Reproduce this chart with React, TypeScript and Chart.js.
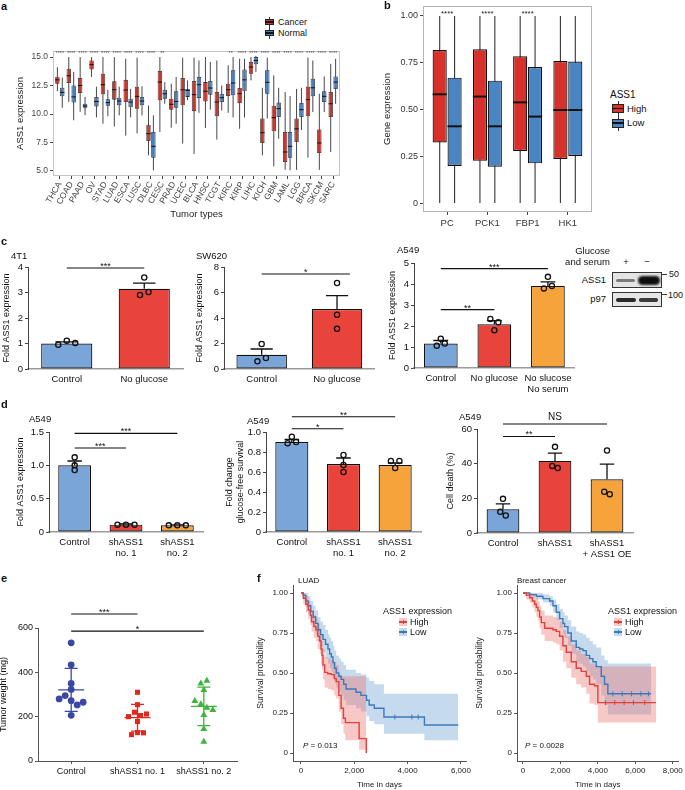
import React, { useEffect, useRef } from 'react';
import { Chart, registerables } from 'chart.js';

Chart.register(...registerables);

const SANS = "'Liberation Sans', Arial, Helvetica, sans-serif";
Chart.defaults.font.family = SANS;
Chart.defaults.color = '#222';

/* ---------------- panel a : ASS1 expression by tumour type ---------------- */
const tumorTypes = ['THCA', 'COAD', 'PAAD', 'OV', 'STAD', 'LUAD', 'ESCA', 'LUSC', 'DLBC', 'CESC', 'PRAD', 'UCEC', 'BLCA', 'HNSC', 'TCGT', 'KIRC', 'KIRP', 'LIHC', 'KICH', 'GBM', 'LAML', 'LGG', 'BRCA', 'SKCM', 'SARC'];
const tumorSig = ['****', '****', '****', '****', '****', '****', '****', '****', '****', '**', '', '', '', '', '', '**', '****', '****', '****', '****', '****', '****', '****', '****', '****'];
// [lower whisker, Q1, median, Q3, upper whisker]
const cancerStats = [
  [12.0, 12.66, 13.0, 13.27, 14.1], [11.05, 12.72, 13.36, 13.98, 15.0], [10.2, 11.84, 12.5, 13.16, 15.0],
  [13.25, 13.9, 14.33, 14.7, 15.0], [9.15, 11.73, 12.57, 13.54, 15.0], [8.9, 11.26, 12.13, 12.87, 15.0],
  [8.1, 11.05, 12.1, 13.0, 14.85], [8.3, 10.47, 11.55, 12.4, 14.95], [6.37, 7.63, 8.27, 9.06, 10.75],
  [8.42, 11.2, 12.8, 13.77, 15.0], [8.8, 10.38, 10.85, 11.35, 12.66], [7.4, 10.76, 12.13, 13.16, 14.95],
  [6.5, 10.26, 11.7, 12.9, 14.95], [8.77, 11.1, 12.0, 12.8, 15.0], [7.75, 9.8, 11.05, 11.93, 14.7],
  [10.1, 11.58, 12.13, 12.66, 14.27], [8.7, 10.96, 11.78, 12.28, 14.85], [12.95, 13.54, 14.12, 14.56, 15.0],
  [6.37, 7.46, 8.36, 9.6, 12.3], [5.4, 8.48, 9.68, 10.73, 13.4], [5.1, 5.79, 6.67, 8.42, 11.93],
  [5.1, 7.54, 8.7, 9.6, 12.2], [6.17, 9.8, 11.26, 12.4, 14.95], [5.1, 6.58, 7.46, 8.63, 11.78],
  [6.67, 9.74, 10.9, 11.93, 14.4],
];
const normalStats = [
  [10.55, 11.55, 11.9, 12.3, 13.2], [9.45, 11.0, 11.5, 12.5, 13.7], [9.9, 10.55, 10.7, 10.9, 11.5],
  [9.7, 10.67, 11.1, 11.5, 12.4], [9.8, 10.73, 11.0, 11.3, 12.13], [9.88, 10.76, 11.14, 11.43, 12.4],
  [9.7, 10.6, 11.05, 11.35, 12.2], [9.88, 10.76, 11.14, 11.5, 12.43], [5.06, 6.17, 7.16, 8.42, 9.88],
  [10.9, 11.35, 11.78, 12.13, 12.8], [9.15, 10.55, 11.1, 12.0, 13.25], [11.2, 11.5, 12.07, 12.2, 12.95],
  [10.1, 11.4, 12.57, 13.25, 14.7], [10.38, 11.7, 12.28, 12.9, 14.56], [10.3, 11.05, 11.43, 11.78, 12.5],
  [9.7, 11.64, 12.72, 13.83, 15.0], [9.7, 12.0, 13.0, 13.9, 14.85], [13.7, 14.36, 14.7, 15.0, 15.1],
  [9.6, 11.78, 12.78, 13.83, 14.95], [7.84, 9.74, 10.47, 11.0, 12.3], [5.06, 6.17, 7.16, 8.42, 11.58],
  [8.6, 9.74, 10.38, 10.96, 12.3], [10.17, 11.55, 12.3, 13.1, 14.7], [10.17, 11.05, 11.55, 12.0, 13.3],
  [10.9, 12.2, 12.8, 13.3, 14.85],
];
const expressionTicks = [5, 7.5, 10, 12.5, 15];

/* ---------------- panel b : gluconeogenic genes ---------------- */
const genes = ['PC', 'PCK1', 'FBP1', 'HK1'];
const geneSig = ['****', '****', '****', ''];
const highStats = [[0, 0.324, 0.581, 0.818, 1], [0, 0.226, 0.569, 0.822, 1], [0, 0.278, 0.538, 0.784, 1], [0, 0.235, 0.497, 0.759, 1]];
const lowStats = [[0, 0.198, 0.41, 0.67, 1], [0, 0.194, 0.41, 0.654, 1], [0, 0.212, 0.462, 0.727, 1], [0, 0.251, 0.497, 0.756, 1]];
const geneTicks = [0, 0.25, 0.5, 0.75, 1];

/* ---------------- panel c ---------------- */
const c1Groups = ['Control', 'No glucose'];
const c1Mean = [1.0, 3.15];
const c1Err = [0.06, 0.22];
const c1Points = [[0.95, 1.11, 1.02], [2.9, 3.59, 3.02]];
const c1Ticks = [0, 1, 2, 3, 4];
const c1Sig = [{ from: 0, to: 1, y: 3.96, label: '***' }];

const c2Groups = ['Control', 'No glucose'];
const c2Mean = [1.12, 4.7];
const c2Err = [0.45, 1.05];
const c2Points = [[0.6, 1.96, 0.86], [6.75, 4.26, 3.16]];
const c2Ticks = [0, 2, 4, 6, 8];
const c2Sig = [{ from: 0, to: 1.17, y: 7.45, label: '*' }];

const c3Groups = ['Control', 'No glucose', ['No slucose', 'No serum']];
const c3Mean = [1.17, 2.08, 3.91];
const c3Err = [0.14, 0.18, 0.19];
const c3Points = [[1.06, 1.39, 1.17], [2.33, 1.8, 2.18], [3.79, 4.34, 3.91]];
const c3Ticks = [0, 1, 2, 3, 4, 5];
const c3Sig = [{ from: 0, to: 2, y: 4.73, label: '***' }, { from: 0, to: 1, y: 2.78, label: '**' }];

/* ---------------- panel d ---------------- */
const d1Groups = ['Control', ['shASS1', 'no. 1'], ['shASS1', 'no. 2']];
const d1Mean = [1.0, 0.11, 0.1];
const d1Err = [0.065, 0.01, 0.008];
const d1Points = [[1.12, 1.0, 0.93], [0.11, 0.11, 0.11], [0.1, 0.1, 0.1]];
const d1Ticks = [0, 0.5, 1.0, 1.5];
const d1Sig = [{ from: 0, to: 2, y: 1.48, label: '***' }, { from: 0, to: 1, y: 1.26, label: '***' }];

const d2Groups = ['Control', ['shASS1', 'no. 1'], ['shASS1', 'no. 2']];
const d2Mean = [0.9, 0.68, 0.67];
const d2Err = [0.025, 0.06, 0.02];
const d2Points = [[0.887, 0.953, 0.9], [0.77, 0.67, 0.6], [0.71, 0.64, 0.71]];
const d2Ticks = [0, 0.2, 0.4, 0.6, 0.8, 1.0];
const d2Sig = [{ from: 0, to: 2, y: 1.153, label: '**' }, { from: 0, to: 1, y: 1.033, label: '*' }];

const d3Groups = ['Control', 'shASS1', ['shASS1', '+ ASS1 OE']];
const d3Mean = [13.7, 41.6, 31.0];
const d3Err = [3.1, 4.5, 8.7];
const d3Points = [[12.2, 19.7, 10.1], [38.7, 49.7, 37.5], [23.8, 47.6, 22.4]];
const d3Ticks = [0, 20, 40, 60];
const d3Sig = [{ from: 0, to: 2, y: 62.9, label: 'NS' }, { from: 0, to: 1, y: 55.7, label: '**' }];

/* ---------------- panel e : tumour weight ---------------- */
const eGroups = ['Control', 'shASS1 no. 1', 'shASS1 no. 2'];
const eControl = [533, 434, 350, 323, 280, 295, 272, 253, 265, 206];
const eSh1 = [310, 254, 200, 220, 205, 212, 178, 119, 128, 127];
const eSh2 = [350, 362, 320, 271, 256, 240, 230, 207, 144, 87];
const eTicks = [0, 200, 400, 600];
const eSig = [{ from: 1, to: 2, y: 663, label: '***' }, { from: 1, to: 3, y: 586, label: '*' }];

/* ---------------- panel f : Kaplan-Meier ---------------- */
const luadHighT = [0, 85, 180, 272, 350, 395, 480, 556, 630, 704, 750, 790, 827, 889, 1000, 1136, 1250, 1321, 1420, 1506, 1593, 1667, 2180, 2450];
const luadHighS = [1.0, 0.967, 0.93, 0.894, 0.86, 0.82, 0.79, 0.77, 0.73, 0.70, 0.65, 0.61, 0.55, 0.504, 0.495, 0.49, 0.465, 0.446, 0.36, 0.28, 0.217, 0.19, 0.09, 0.0];
const luadHighUp = [1, 1, 0.98, 0.95, 0.92, 0.89, 0.86, 0.84, 0.81, 0.78, 0.74, 0.70, 0.65, 0.60, 0.59, 0.58, 0.57, 0.55, 0.49, 0.48, 0.48, 0.48, 0.48, 0.48];
const luadHighLo = [1, 0.93, 0.88, 0.84, 0.80, 0.76, 0.72, 0.70, 0.65, 0.62, 0.56, 0.52, 0.46, 0.41, 0.40, 0.39, 0.36, 0.34, 0.26, 0.18, 0.12, 0.08, 0.02, 0.0];
const luadHighCensor: number[] = [];
const luadLowT = [0, 85, 180, 272, 365, 457, 550, 642, 735, 827, 920, 1012, 1075, 1136, 1200, 1259, 1321, 1420, 1506, 1600, 1691, 2062, 2247, 2457, 2556, 2750, 3111, 4630, 5900];
const luadLowS = [1.0, 0.985, 0.95, 0.92, 0.885, 0.85, 0.81, 0.77, 0.74, 0.71, 0.68, 0.65, 0.62, 0.60, 0.565, 0.53, 0.50, 0.48, 0.46, 0.43, 0.40, 0.38, 0.36, 0.33, 0.30, 0.28, 0.225, 0.175, 0.175];
const luadLowUp = [1, 1, 1, 0.98, 0.95, 0.92, 0.89, 0.85, 0.82, 0.80, 0.77, 0.74, 0.72, 0.70, 0.67, 0.64, 0.61, 0.59, 0.57, 0.55, 0.52, 0.50, 0.49, 0.47, 0.45, 0.43, 0.37, 0.37, 0.37];
const luadLowLo = [1, 0.96, 0.91, 0.87, 0.83, 0.79, 0.74, 0.70, 0.66, 0.63, 0.59, 0.56, 0.53, 0.51, 0.47, 0.44, 0.41, 0.38, 0.36, 0.33, 0.30, 0.28, 0.26, 0.23, 0.20, 0.18, 0.12, 0.08, 0.08];
const luadLowCensor = [3520, 4160, 4400];
const luadTicks = [0, 2000, 4000, 6000];

const brHighT = [0, 178, 356, 500, 622, 711, 800, 889, 978, 1156, 1600, 1778, 1956, 2133, 2311, 2578, 2844, 3111, 3378, 3556, 3822, 4000, 7111];
const brHighS = [1.0, 0.985, 0.97, 0.95, 0.93, 0.91, 0.89, 0.85, 0.815, 0.78, 0.77, 0.76, 0.73, 0.67, 0.63, 0.57, 0.53, 0.51, 0.48, 0.43, 0.42, 0.315, 0.315];
const brHighUp = [1, 1, 1, 0.99, 0.98, 0.97, 0.95, 0.92, 0.89, 0.86, 0.85, 0.84, 0.82, 0.77, 0.73, 0.68, 0.64, 0.62, 0.60, 0.56, 0.55, 0.54, 0.54];
const brHighLo = [1, 0.96, 0.94, 0.91, 0.88, 0.85, 0.83, 0.78, 0.74, 0.70, 0.69, 0.68, 0.64, 0.57, 0.53, 0.47, 0.43, 0.41, 0.37, 0.31, 0.30, 0.19, 0.19];
const brHighCensor = [4400, 4900, 5400, 5900, 6500];
const brLowT = [0, 355, 711, 1067, 1422, 1600, 1778, 1956, 2133, 2222, 2400, 2578, 2844, 3022, 3200, 3378, 3556, 3733, 3911, 4178, 4356, 4533, 6844];
const brLowS = [1.0, 0.99, 0.98, 0.965, 0.95, 0.92, 0.88, 0.84, 0.81, 0.79, 0.75, 0.70, 0.66, 0.65, 0.64, 0.61, 0.59, 0.57, 0.54, 0.48, 0.43, 0.37, 0.37];
const brLowUp = [1, 1, 1, 0.99, 0.98, 0.96, 0.93, 0.90, 0.88, 0.86, 0.83, 0.79, 0.76, 0.75, 0.74, 0.72, 0.70, 0.68, 0.66, 0.61, 0.58, 0.56, 0.56];
const brLowLo = [1, 0.98, 0.96, 0.94, 0.92, 0.88, 0.83, 0.78, 0.74, 0.72, 0.67, 0.62, 0.57, 0.56, 0.54, 0.51, 0.48, 0.46, 0.43, 0.36, 0.30, 0.24, 0.24];
const brLowCensor = [4800, 5300, 5800, 6300, 6700];
const brTicks = [0, 2000, 4000, 6000, 8000];
const survTicks = [0, 0.25, 0.5, 0.75, 1];

/* ---------------- colours ---------------- */
const A_RED = '#c8372d';
const A_BLUE = '#4a7fba';
const B_RED = '#d8302a';
const B_BLUE = '#4a85c3';
const BAR_BLUE = '#7aa5d9';
const BAR_RED = '#e8443c';
const BAR_ORANGE = '#f6a33c';
const E_BLUE = '#3b48a3';
const E_RED = '#e0281e';
const E_GREEN = '#3db43a';
const KM_RED = '#e2403a';
const KM_BLUE = '#3d79b8';
const KM_RED_BAND = 'rgba(236,110,104,0.38)';
const KM_BLUE_BAND = 'rgba(120,166,214,0.42)';

/* ---------------- helpers ---------------- */
type Sig = { from: number; to: number; y: number; label: string };

function clusterOffsets(py: number[], thr: number, gap: number): number[] {
  const order = py.map((_, i) => i).sort((a, b) => py[a] - py[b]);
  const groups: number[][] = [];
  order.forEach((i, k) => {
    if (k > 0 && Math.abs(py[i] - py[order[k - 1]]) < thr) groups[groups.length - 1].push(i);
    else groups.push([i]);
  });
  const offs = py.map(() => 0);
  groups.forEach((g) => {
    const s = g.slice().sort((a, b) => a - b);
    s.forEach((i, k) => { offs[i] = (k - (s.length - 1) / 2) * gap; });
  });
  return offs;
}

function fixedTicks(values: number[]) {
  return (s: any) => { s.ticks = values.map((v) => ({ value: v })); };
}

function fmt(dec: number) {
  return (v: any) => (Number(v) === 0 ? '0' : Number(v).toFixed(dec));
}

function drawSigs(chart: any, sigs: Sig[]) {
  const ctx = chart.ctx;
  const x = chart.scales.x;
  const y = chart.scales.y;
  ctx.save();
  ctx.strokeStyle = '#111';
  ctx.fillStyle = '#111';
  ctx.lineWidth = 1.1;
  ctx.textAlign = 'center';
  ctx.textBaseline = 'middle';
  sigs.forEach((s) => {
    const x0 = x.getPixelForValue(s.from);
    const x1 = x.getPixelForValue(s.to);
    const yy = y.getPixelForValue(s.y);
    ctx.beginPath();
    ctx.moveTo(x0, yy);
    ctx.lineTo(x1, yy);
    ctx.stroke();
    const star = /^\*+$/.test(s.label);
    ctx.font = `${star ? 9 : 10}px ${SANS}`;
    ctx.fillText(s.label, (x0 + x1) / 2, star ? yy - 1.5 : yy - 6.5);
  });
  ctx.restore();
}

function boxPlugin(cfg: { stats: number[][][]; medianWidth: number; whiskerWidth: number; sig: string[]; sigValue: number; sigFont: number; sigColor: string; frame: string }) {
  return {
    id: 'boxes',
    beforeDatasetsDraw(chart: any) {
      const ctx = chart.ctx;
      const y = chart.scales.y;
      ctx.save();
      ctx.strokeStyle = '#333';
      ctx.lineWidth = cfg.whiskerWidth;
      cfg.stats.forEach((st, d) => {
        chart.getDatasetMeta(d).data.forEach((el: any, i: number) => {
          ctx.beginPath();
          ctx.moveTo(el.x, y.getPixelForValue(st[i][4]));
          ctx.lineTo(el.x, y.getPixelForValue(st[i][0]));
          ctx.stroke();
        });
      });
      ctx.restore();
    },
    afterDatasetsDraw(chart: any) {
      const ctx = chart.ctx;
      const y = chart.scales.y;
      const x = chart.scales.x;
      ctx.save();
      ctx.strokeStyle = '#111';
      ctx.lineWidth = cfg.medianWidth;
      cfg.stats.forEach((st, d) => {
        chart.getDatasetMeta(d).data.forEach((el: any, i: number) => {
          const my = y.getPixelForValue(st[i][2]);
          ctx.beginPath();
          ctx.moveTo(el.x - el.width / 2, my);
          ctx.lineTo(el.x + el.width / 2, my);
          ctx.stroke();
        });
      });
      const a = chart.chartArea;
      ctx.strokeStyle = cfg.frame;
      ctx.lineWidth = 1;
      ctx.strokeRect(Math.round(a.left) + 0.5, Math.round(a.top) + 0.5, Math.round(a.right - a.left) - 1, Math.round(a.bottom - a.top) - 1);
      ctx.fillStyle = cfg.sigColor;
      ctx.font = `${cfg.sigFont}px ${SANS}`;
      ctx.textAlign = 'center';
      ctx.textBaseline = 'middle';
      const sy = y.getPixelForValue(cfg.sigValue) + cfg.sigFont * 0.25;
      cfg.sig.forEach((s, i) => { if (s) ctx.fillText(s, x.getPixelForValue(i + 1), sy); });
      ctx.restore();
    },
  };
}

function barPlugin(errs: number[], sigs: Sig[], thr: number, gap: number) {
  return {
    id: 'barExtras',
    afterDatasetsUpdate(chart: any) {
      const metas = chart.data.datasets.map((_: any, i: number) => chart.getDatasetMeta(i)).slice(1);
      const n = metas[0].data.length;
      for (let c = 0; c < n; c++) {
        const ys = metas.map((m: any) => m.data[c].y);
        const offs = clusterOffsets(ys, thr, gap);
        metas.forEach((m: any, k: number) => { m.data[c].x += offs[k]; });
      }
    },
    afterDatasetDraw(chart: any, args: any) {
      if (args.index !== 0) return;
      const ctx = chart.ctx;
      const y = chart.scales.y;
      const means = chart.data.datasets[0].data;
      ctx.save();
      ctx.strokeStyle = '#111';
      ctx.lineWidth = 1.3;
      args.meta.data.forEach((el: any, i: number) => {
        const top = y.getPixelForValue(means[i] + errs[i]);
        const half = el.width * 0.22;
        ctx.beginPath();
        ctx.moveTo(el.x, el.y);
        ctx.lineTo(el.x, top);
        ctx.moveTo(el.x - half, top);
        ctx.lineTo(el.x + half, top);
        ctx.stroke();
      });
      ctx.restore();
    },
    afterDraw(chart: any) { drawSigs(chart, sigs); },
  };
}

function swarmPlugin(groups: number[][], colors: string[], sigs: Sig[], thr: number, gap: number) {
  return {
    id: 'swarm',
    afterDatasetsUpdate(chart: any) {
      groups.forEach((_, g) => {
        const m = chart.getDatasetMeta(g);
        const offs = clusterOffsets(m.data.map((p: any) => p.y), thr, gap);
        m.data.forEach((p: any, k: number) => { p.x += offs[k]; });
      });
    },
    beforeDatasetsDraw(chart: any) {
      const ctx = chart.ctx;
      const x = chart.scales.x;
      const y = chart.scales.y;
      ctx.save();
      ctx.lineWidth = 1.3;
      groups.forEach((vals, g) => {
        const mean = vals.reduce((a, b) => a + b, 0) / vals.length;
        const sd = Math.sqrt(vals.reduce((a, b) => a + (b - mean) * (b - mean), 0) / (vals.length - 1));
        const cx = x.getPixelForValue(g + 1);
        const ym = y.getPixelForValue(mean);
        const yt = y.getPixelForValue(mean + sd);
        const yb = y.getPixelForValue(mean - sd);
        ctx.strokeStyle = colors[g];
        ctx.beginPath();
        ctx.moveTo(cx - 13, ym); ctx.lineTo(cx + 13, ym);
        ctx.moveTo(cx - 6.5, yt); ctx.lineTo(cx + 6.5, yt);
        ctx.moveTo(cx - 6.5, yb); ctx.lineTo(cx + 6.5, yb);
        ctx.moveTo(cx, yt); ctx.lineTo(cx, yb);
        ctx.stroke();
      });
      ctx.restore();
    },
    afterDraw(chart: any) { drawSigs(chart, sigs); },
  };
}

type Rect = { x: number; y: number; w: number; h: number };
type Area = { l: number; t: number; r: number; b: number };

function ChartBox({ rect, area, make }: { rect: Rect; area: Area; make: () => any }) {
  const ref = useRef<HTMLCanvasElement | null>(null);
  useEffect(() => {
    const cfg = make();
    cfg.options = cfg.options || {};
    cfg.options.animation = false;
    cfg.options.responsive = true;
    cfg.options.maintainAspectRatio = false;
    cfg.options.layout = { padding: { left: 0, top: area.t - rect.y, right: rect.x + rect.w - area.r, bottom: 0 } };
    const xH = rect.y + rect.h - area.b;
    const yW = area.l - rect.x;
    cfg.options.scales.x.afterFit = (s: any) => { s.height = xH; };
    cfg.options.scales.y.afterFit = (s: any) => { s.width = yW; };
    cfg.options.plugins = { ...(cfg.options.plugins || {}), legend: { display: false }, tooltip: { enabled: false } };
    const chart = new Chart(ref.current as HTMLCanvasElement, cfg);
    return () => chart.destroy();
  }, []);
  return (
    <div style={{ position: 'absolute', left: rect.x, top: rect.y, width: rect.w, height: rect.h }}>
      <canvas ref={ref} />
    </div>
  );
}

/* ---------------- chart builders ---------------- */
function makeA() {
  const ds = (stats: number[][], color: string) => ({
    data: stats.map((s, i) => ({ x: i + 1, y: [s[1], s[3]] })),
    backgroundColor: color, borderColor: '#2a2a2a', borderWidth: 0.8, borderSkipped: false,
    categoryPercentage: 0.86, barPercentage: 0.9,
  });
  return {
    type: 'bar',
    data: { datasets: [ds(cancerStats, A_RED), ds(normalStats, A_BLUE)] },
    options: {
      scales: {
        x: {
          type: 'linear', min: 0.4, max: tumorTypes.length + 0.6, offset: false,
          afterBuildTicks: fixedTicks(tumorTypes.map((_, i) => i + 1)),
          ticks: { autoSkip: false, minRotation: 60, maxRotation: 60, padding: 1, color: '#444', font: { size: 8.5 }, callback: (v: any) => tumorTypes[Math.round(v) - 1] },
          grid: { display: true, drawOnChartArea: false, drawTicks: true, tickLength: 3, color: '#444', offset: false },
          border: { display: false },
          title: { display: true, text: 'Tumor types', color: '#222', font: { size: 9.5 }, padding: { top: 0, bottom: 5 } },
        },
        y: {
          min: 4.56, max: 15.53,
          afterBuildTicks: fixedTicks(expressionTicks),
          ticks: { padding: 2, color: '#444', font: { size: 8.5 }, callback: fmt(1) },
          grid: { display: true, drawOnChartArea: false, drawTicks: true, tickLength: 3, color: '#444' },
          border: { display: false },
          title: { display: true, text: 'ASS1 expression', color: '#222', font: { size: 9.5 }, padding: { top: 14.5, bottom: 0 } },
        },
      },
    },
    plugins: [boxPlugin({ stats: [cancerStats, normalStats], medianWidth: 1, whiskerWidth: 0.9, sig: tumorSig, sigValue: 15.43, sigFont: 5.5, sigColor: '#555', frame: '#c4c4c4' })],
  };
}

function makeB() {
  const ds = (stats: number[][], color: string) => ({
    data: stats.map((s, i) => ({ x: i + 1, y: [s[1], s[3]] })),
    backgroundColor: color, borderColor: '#111', borderWidth: 1.2, borderSkipped: false,
    categoryPercentage: 0.74, barPercentage: 0.95,
  });
  return {
    type: 'bar',
    data: { datasets: [ds(highStats, B_RED), ds(lowStats, B_BLUE)] },
    options: {
      scales: {
        x: {
          type: 'linear', min: 0.4, max: genes.length + 0.6, offset: false,
          afterBuildTicks: fixedTicks(genes.map((_, i) => i + 1)),
          ticks: { autoSkip: false, maxRotation: 0, padding: 3, color: '#333', font: { size: 9.5 }, callback: (v: any) => genes[Math.round(v) - 1] },
          grid: { display: true, drawOnChartArea: false, drawTicks: true, tickLength: 3, color: '#444', offset: false },
          border: { display: false },
        },
        y: {
          min: -0.048, max: 1.053,
          afterBuildTicks: fixedTicks(geneTicks),
          ticks: { padding: 2, color: '#333', font: { size: 9 }, callback: fmt(2) },
          grid: { display: true, drawOnChartArea: false, drawTicks: true, tickLength: 3, color: '#444' },
          border: { display: false },
          title: { display: true, text: 'Gene expression', color: '#222', font: { size: 9.5 }, padding: { top: 32, bottom: 0 } },
        },
      },
    },
    plugins: [boxPlugin({ stats: [highStats, lowStats], medianWidth: 2, whiskerWidth: 1.1, sig: geneSig, sigValue: 1.021, sigFont: 8, sigColor: '#222', frame: '#b5b5b5' })],
  };
}

function makeBars(p: { groups: any[]; mean: number[]; err: number[]; points: number[][]; sig: Sig[]; ticks: number[]; dec: number; colors: string[]; max: number; title: any; titlePad: number; catPct: number; gap: number }) {
  const reps = p.points[0].length;
  const pointSets = Array.from({ length: reps }, (_, k) => ({
    type: 'line', data: p.points.map((v) => v[k]), showLine: false,
    pointRadius: 2.6, pointBorderWidth: 1.3, pointBorderColor: '#111', pointBackgroundColor: 'rgba(0,0,0,0)', order: 1,
  }));
  return {
    type: 'bar',
    data: {
      labels: p.groups,
      datasets: [
        { type: 'bar', data: p.mean, backgroundColor: p.colors, borderColor: '#111', borderWidth: 1.2, borderSkipped: false, categoryPercentage: p.catPct, barPercentage: 1, order: 2 },
        ...pointSets,
      ],
    },
    options: {
      scales: {
        x: {
          grid: { display: false, drawTicks: false },
          border: { display: true, color: '#9b9b9b', width: 1.5 },
          ticks: { color: '#111', font: { size: 9.5, lineHeight: 1.15 }, padding: 5, maxRotation: 0, autoSkip: false },
        },
        y: {
          min: 0, max: p.max,
          afterBuildTicks: fixedTicks(p.ticks),
          ticks: { color: '#111', font: { size: 9.5 }, padding: 2, callback: fmt(p.dec) },
          grid: { display: true, drawOnChartArea: false, drawTicks: true, tickLength: 3, color: '#444' },
          border: { display: true, color: '#444', width: 1 },
          title: { display: true, text: p.title, color: '#111', font: { size: 9 }, padding: { top: p.titlePad, bottom: 0 } },
        },
      },
    },
    plugins: [barPlugin(p.err, p.sig, 4, p.gap)],
  };
}

function makeE() {
  const groups = [eControl, eSh1, eSh2];
  const styles = [
    { pointStyle: 'circle', radius: 3.4, color: E_BLUE },
    { pointStyle: 'rect', radius: 3.6, color: E_RED },
    { pointStyle: 'triangle', radius: 4.0, color: E_GREEN },
  ];
  return {
    type: 'scatter',
    data: {
      datasets: groups.map((vals, g) => ({
        data: vals.map((v) => ({ x: g + 1, y: v })),
        pointStyle: styles[g].pointStyle, pointRadius: styles[g].radius,
        backgroundColor: styles[g].color, borderColor: styles[g].color, borderWidth: 0,
      })),
    },
    options: {
      scales: {
        x: {
          type: 'linear', min: 0.5, max: 3.5,
          afterBuildTicks: fixedTicks([1, 2, 3]),
          ticks: { color: '#111', font: { size: 9 }, padding: 2, callback: (v: any) => eGroups[Math.round(v) - 1] },
          grid: { display: true, drawOnChartArea: false, drawTicks: true, tickLength: 3, color: '#555' },
          border: { display: true, color: '#555', width: 1 },
        },
        y: {
          min: 0, max: 600,
          afterBuildTicks: fixedTicks(eTicks),
          ticks: { color: '#111', font: { size: 9 }, padding: 2, callback: fmt(0) },
          grid: { display: true, drawOnChartArea: false, drawTicks: true, tickLength: 3, color: '#555' },
          border: { display: true, color: '#555', width: 1 },
          title: { display: true, text: 'Tumor weight (mg)', color: '#111', font: { size: 9 }, padding: { top: 2, bottom: 0 } },
        },
      },
    },
    plugins: [swarmPlugin(groups, [E_BLUE, E_RED, E_GREEN], eSig, 4.5, 6)],
  };
}

type Curve = { T: number[]; S: number[]; lo: number[]; up: number[]; censor: number[] };

function survAt(c: Curve, t: number) {
  let v = c.S[0];
  c.T.forEach((tt, i) => { if (tt <= t) v = c.S[i]; });
  return v;
}

function makeKM(high: Curve, low: Curve, xMin: number, xMax: number, xTicks: number[], titlePad: number) {
  const pts = (T: number[], V: number[]) => T.map((t, i) => ({ x: t, y: V[i] }));
  const band = (c: Curve, vals: number[], fill: any, bg: string) => ({
    data: pts(c.T, vals), stepped: true, borderWidth: 0, borderColor: 'rgba(0,0,0,0)', pointRadius: 0, fill, backgroundColor: bg, order: 5,
  });
  const line = (c: Curve, color: string) => ({
    data: pts(c.T, c.S), stepped: true, borderWidth: 1.4, borderColor: color, pointRadius: 0, fill: false, order: 2,
  });
  const cens = (c: Curve, color: string) => ({
    data: c.censor.map((t) => ({ x: t, y: survAt(c, t) })), showLine: false, pointStyle: 'line', rotation: 90,
    pointRadius: 2.5, pointBorderWidth: 1, pointBorderColor: color, order: 1,
  });
  return {
    type: 'line',
    data: {
      datasets: [
        band(high, high.lo, false, 'rgba(0,0,0,0)'),
        band(high, high.up, '-1', KM_RED_BAND),
        band(low, low.lo, false, 'rgba(0,0,0,0)'),
        band(low, low.up, '-1', KM_BLUE_BAND),
        line(high, KM_RED),
        line(low, KM_BLUE),
        cens(high, KM_RED),
        cens(low, KM_BLUE),
      ],
    },
    options: {
      scales: {
        x: {
          type: 'linear', min: xMin, max: xMax,
          afterBuildTicks: fixedTicks(xTicks),
          ticks: { color: '#222', font: { size: 8 }, padding: 2, callback: (v: any) => Number(v).toLocaleString('en-US') },
          grid: { display: true, drawOnChartArea: false, drawTicks: true, tickLength: 3, color: '#555' },
          border: { display: true, color: '#555', width: 1 },
          title: { display: true, text: 'Time in days', color: '#222', font: { size: 8 }, padding: { top: 0, bottom: 0.5 } },
        },
        y: {
          min: -0.05, max: 1.05,
          afterBuildTicks: fixedTicks(survTicks),
          ticks: { color: '#222', font: { size: 8 }, padding: 2, callback: fmt(2) },
          grid: { display: true, drawOnChartArea: false, drawTicks: true, tickLength: 3, color: '#555' },
          border: { display: true, color: '#555', width: 1 },
          title: { display: true, text: 'Survival probability', color: '#222', font: { size: 8.5 }, padding: { top: titlePad, bottom: 0 } },
        },
      },
    },
  };
}

/* ---------------- HTML bits ---------------- */
function T({ x, y, children, align = 'l', size = 9, bold = false, italic = false, color = '#111', family = SANS }: any) {
  const tx = align === 'c' ? '-50%' : align === 'r' ? '-100%' : '0';
  return (
    <div style={{ position: 'absolute', left: x, top: y, transform: `translate(${tx}, -50%)`, whiteSpace: 'nowrap', fontSize: size, fontWeight: bold ? 700 : 400, fontStyle: italic ? 'italic' : 'normal', color, fontFamily: family, lineHeight: 1 }}>
      {children}
    </div>
  );
}

function BoxKey({ x, y, w, h, color, stub, border }: any) {
  return (
    <div style={{ position: 'absolute', left: x, top: y - h / 2 - stub, width: w, height: h + 2 * stub }}>
      <div style={{ position: 'absolute', left: w / 2 - 0.5, top: 0, width: 1, height: h + 2 * stub, background: '#333' }} />
      <div style={{ position: 'absolute', left: 0, top: stub, width: w, height: h, background: color, border: `${border}px solid #222`, boxSizing: 'border-box' }} />
      <div style={{ position: 'absolute', left: 0, top: stub + h / 2 - 0.6, width: w, height: 1.2, background: '#111' }} />
    </div>
  );
}

function KmKey({ x, y, color, fill }: any) {
  return (
    <div style={{ position: 'absolute', left: x, top: y - 4, width: 8, height: 8, background: fill }}>
      <div style={{ position: 'absolute', left: 0, top: 3.4, width: 8, height: 1.3, background: color }} />
      <div style={{ position: 'absolute', left: 3.5, top: 2, width: 1, height: 4, background: color }} />
    </div>
  );
}

function Blot() {
  const band = (l: number, t: number, w: number, h: number, c: string, blur: number) => (
    <div style={{ position: 'absolute', left: l, top: t, width: w, height: h, background: c, borderRadius: h / 2, filter: `blur(${blur}px)` }} />
  );
  return (
    <>
      <T x={610} y={251} align="r" size={9.5}>Glucose</T>
      <T x={610} y={262} align="r" size={9.5}>and serum</T>
      <T x={626} y={262} align="c" size={9.5}>+</T>
      <T x={647} y={262} align="c" size={9.5}>−</T>
      <T x={606} y={280} align="r" size={9.5}>ASS1</T>
      <T x={606} y={299} align="r" size={9.5}>p97</T>
      <div style={{ position: 'absolute', left: 612, top: 272, width: 50, height: 16, border: '1px solid #333', background: '#e4e4e4', boxSizing: 'border-box', overflow: 'hidden' }}>
        {band(3, 6, 19, 3, '#7a7a7a', 0.6)}
        {band(25, 2.5, 22, 9, '#0d0d0d', 0.8)}
      </div>
      <div style={{ position: 'absolute', left: 612, top: 292, width: 50, height: 15, border: '1px solid #333', background: '#e6e6e6', boxSizing: 'border-box', overflow: 'hidden' }}>
        {band(3, 5, 20, 4, '#2a2a2a', 0.6)}
        {band(26, 5, 19, 3.5, '#3a3a3a', 0.6)}
      </div>
      <div style={{ position: 'absolute', left: 662, top: 274, width: 5, height: 1, background: '#333' }} />
      <div style={{ position: 'absolute', left: 662, top: 294, width: 5, height: 1, background: '#333' }} />
      <T x={669} y={274} size={9}>50</T>
      <T x={668} y={295} size={9}>100</T>
    </>
  );
}

export default function App() {
  const luadHigh: Curve = { T: luadHighT, S: luadHighS, lo: luadHighLo, up: luadHighUp, censor: luadHighCensor };
  const luadLow: Curve = { T: luadLowT, S: luadLowS, lo: luadLowLo, up: luadLowUp, censor: luadLowCensor };
  const brHigh: Curve = { T: brHighT, S: brHighS, lo: brHighLo, up: brHighUp, censor: brHighCensor };
  const brLow: Curve = { T: brLowT, S: brLowS, lo: brLowLo, up: brLowUp, censor: brLowCensor };

  return (
    <div style={{ position: 'absolute', left: 0, top: 0, width: 685, height: 790, background: '#fff', overflow: 'hidden', fontFamily: SANS, color: '#111' }}>
      {/* panel a */}
      <ChartBox rect={{ x: 0, y: 40, w: 345, h: 185 }} area={{ l: 53, t: 51, r: 340, b: 176 }} make={makeA} />
      <BoxKey x={265} y={22} w={9} h={6} color={A_RED} stub={2.5} border={0.8} />
      <BoxKey x={265} y={33} w={9} h={6} color={A_BLUE} stub={2.5} border={0.8} />
      <T x={278} y={22} size={9}>Cancer</T>
      <T x={278} y={33} size={9}>Normal</T>

      {/* panel b */}
      <ChartBox rect={{ x: 350, y: -10, w: 250, h: 245 }} area={{ l: 423, t: 6, r: 592, b: 212 }} make={makeB} />
      <T x={610} y={95} size={10}>ASS1</T>
      <BoxKey x={612} y={108.5} w={12} h={9} color={B_RED} stub={3} border={1.1} />
      <BoxKey x={612} y={123} w={12} h={9} color={B_BLUE} stub={3} border={1.1} />
      <T x={627} y={108.5} size={9.5}>High</T>
      <T x={627} y={123} size={9.5}>Low</T>

      {/* panel c */}
      <ChartBox rect={{ x: 0, y: 245, w: 190, h: 150 }} area={{ l: 28, t: 267, r: 183, b: 369 }}
        make={() => makeBars({ groups: c1Groups, mean: c1Mean, err: c1Err, points: c1Points, sig: c1Sig, ticks: c1Ticks, dec: 0, colors: [BAR_BLUE, BAR_RED], max: 4, title: 'Fold ASS1 expression', titlePad: 1, catPct: 0.66, gap: 8.5 })} />
      <ChartBox rect={{ x: 190, y: 245, w: 190, h: 150 }} area={{ l: 224, t: 267, r: 377, b: 369 }}
        make={() => makeBars({ groups: c2Groups, mean: c2Mean, err: c2Err, points: c2Points, sig: c2Sig, ticks: c2Ticks, dec: 0, colors: [BAR_BLUE, BAR_RED], max: 8, title: 'Fold ASS1 expression', titlePad: 4, catPct: 0.67, gap: 8.5 })} />
      <ChartBox rect={{ x: 380, y: 240, w: 200, h: 160 }} area={{ l: 414, t: 263, r: 575, b: 368 }}
        make={() => makeBars({ groups: c3Groups, mean: c3Mean, err: c3Err, points: c3Points, sig: c3Sig, ticks: c3Ticks, dec: 0, colors: [BAR_BLUE, BAR_RED, BAR_ORANGE], max: 5, title: 'Fold ASS1 expression', titlePad: 7, catPct: 0.63, gap: 8 })} />
      <T x={11} y={256} size={9.5}>4T1</T>
      <T x={196} y={256} size={9.5}>SW620</T>
      <T x={397} y={250} size={9.5}>A549</T>
      <Blot />

      {/* panel d */}
      <ChartBox rect={{ x: 0, y: 405, w: 215, h: 160 }} area={{ l: 49, t: 432, r: 203, b: 532 }}
        make={() => makeBars({ groups: d1Groups, mean: d1Mean, err: d1Err, points: d1Points, sig: d1Sig, ticks: d1Ticks, dec: 1, colors: [BAR_BLUE, BAR_RED, BAR_ORANGE], max: 1.5, title: 'Fold ASS1 expression', titlePad: 15, catPct: 0.64, gap: 8.5 })} />
      <ChartBox rect={{ x: 215, y: 405, w: 215, h: 160 }} area={{ l: 266, t: 432, r: 421, b: 532 }}
        make={() => makeBars({ groups: d2Groups, mean: d2Mean, err: d2Err, points: d2Points, sig: d2Sig, ticks: d2Ticks, dec: 1, colors: [BAR_BLUE, BAR_RED, BAR_ORANGE], max: 1.0, title: ['Fold change', 'glucose-free survival'], titlePad: 9, catPct: 0.64, gap: 8.5 })} />
      <ChartBox rect={{ x: 440, y: 405, w: 200, h: 160 }} area={{ l: 477, t: 429, r: 633, b: 533 }}
        make={() => makeBars({ groups: d3Groups, mean: d3Mean, err: d3Err, points: d3Points, sig: d3Sig, ticks: d3Ticks, dec: 0, colors: [BAR_BLUE, BAR_RED, BAR_ORANGE], max: 60, title: 'Cell death (%)', titlePad: 5, catPct: 0.63, gap: 5.5 })} />
      <T x={29} y={419} size={9.5}>A549</T>
      <T x={247} y={421} size={9.5}>A549</T>
      <T x={459} y={417} size={9.5}>A549</T>

      {/* panel e */}
      <ChartBox rect={{ x: -4, y: 595, w: 249, h: 195 }} area={{ l: 38, t: 628, r: 237, b: 761 }} make={makeE} />

      {/* panel f */}
      <ChartBox rect={{ x: 255, y: 575, w: 222, h: 215 }} area={{ l: 293, t: 585, r: 466, b: 761 }}
        make={() => makeKM(luadHigh, luadLow, -300, 6190, luadTicks, 1)} />
      <ChartBox rect={{ x: 470, y: 575, w: 215, h: 215 }} area={{ l: 517, t: 585, r: 679, b: 761 }}
        make={() => makeKM(brHigh, brLow, -320, 8320, brTicks, 5)} />
      <T x={298} y={581} size={8}>LUAD</T>
      <T x={517} y={581} size={8}>Breast cancer</T>
      <T x={383} y={611} size={9}>ASS1 expression</T>
      <KmKey x={399} y={622} color={KM_RED} fill={KM_RED_BAND} />
      <KmKey x={399} y={632} color={KM_BLUE} fill={KM_BLUE_BAND} />
      <T x={410} y={622} size={9}>High</T>
      <T x={410} y={632} size={9}>Low</T>
      <T x={608} y={611} size={9}>ASS1 expression</T>
      <KmKey x={614} y={622} color={KM_RED} fill={KM_RED_BAND} />
      <KmKey x={614} y={632} color={KM_BLUE} fill={KM_BLUE_BAND} />
      <T x={625} y={622} size={9}>High</T>
      <T x={625} y={632} size={9}>Low</T>
      <T x={303} y={746} size={8}><i>P</i> = 0.013</T>
      <T x={525} y={746} size={8}><i>P</i> = 0.0028</T>

      {/* panel letters */}
      <T x={1} y={6} size={11} bold>a</T>
      <T x={384} y={5} size={11} bold>b</T>
      <T x={1} y={241} size={11} bold>c</T>
      <T x={1} y={404} size={11} bold>d</T>
      <T x={1} y={578} size={11} bold>e</T>
      <T x={257} y={578} size={11} bold>f</T>
    </div>
  );
}
